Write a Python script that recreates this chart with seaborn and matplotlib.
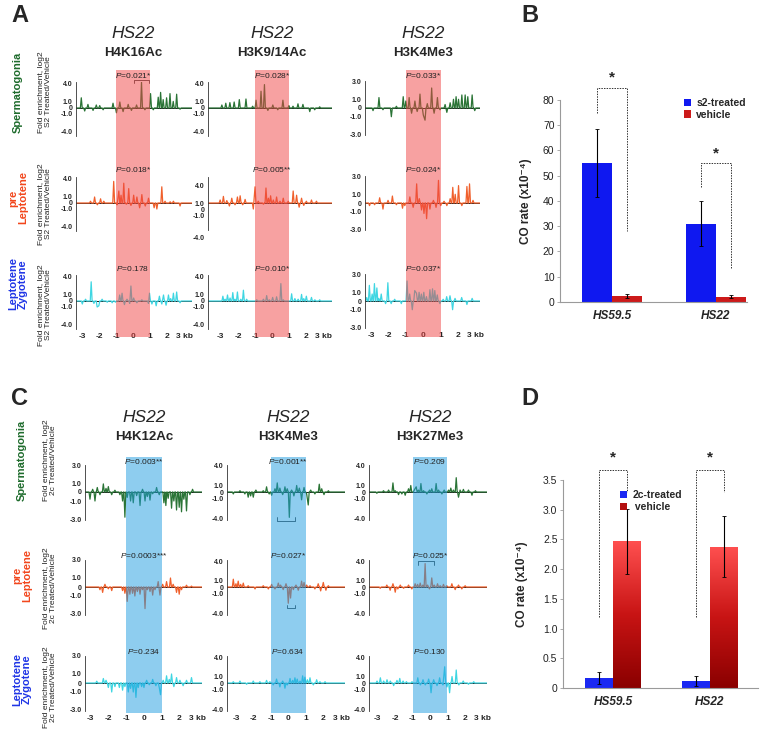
import numpy as np
import pandas as pd
import matplotlib
matplotlib.use("Agg")
import matplotlib.pyplot as plt
from matplotlib.patches import Rectangle
from matplotlib.transforms import blended_transform_factory
from matplotlib.colors import LinearSegmentedColormap
import seaborn as sns

# ---------------------------------------------------------------
# data: (position kb, log2 fold enrichment)
# ---------------------------------------------------------------
# panel A (S2 treated / vehicle)
A_SG_K16 = [(-3.04, 1.7), (-2.84, -0.5), (-2.65, 0.6), (-2.35, -0.4), (-2.16, 0.5), (-1.96, 0.4),
            (-1.76, -0.3), (-1.18, 0.8), (-0.98, -0.8), (-0.78, 1.0), (-0.59, -0.6), (-0.29, 0.6),
            (-0.10, -0.4), (0.20, 0.5), (0.49, 4.3), (0.69, -0.3), (1.02, 2.4), (1.18, -0.3),
            (1.47, 1.8), (1.61, 2.6), (1.76, 1.4), (1.96, 1.7), (2.16, 2.4), (2.35, 1.1),
            (2.55, 2.3), (2.75, -0.2)]
A_SG_K9 = [(-2.94, 0.5), (-2.71, 0.8), (-2.47, 0.9), (-2.22, 1.0), (-1.92, 1.4), (-1.53, 1.5),
           (-1.14, 0.3), (-0.94, 1.3), (-0.65, 2.8), (-0.45, 3.9), (-0.25, -0.4), (0.04, 0.5),
           (0.33, -0.3), (0.63, 1.3), (0.98, 0.4), (1.22, 0.3), (1.51, 0.7), (1.80, 0.6),
           (2.20, -0.6), (2.49, -0.3), (2.78, 0.2)]
A_SG_K4 = [(-2.88, -0.3), (-2.54, 1.2), (-2.31, -0.2), (-1.83, -1.0), (-1.54, 0.2), (-1.15, 1.3),
           (-1.00, 0.8), (-0.81, 1.2), (-0.67, -0.6), (-0.48, 0.8), (-0.35, -0.4), (-0.19, 1.6),
           (0.00, -0.8), (0.10, -1.4), (0.23, 0.5), (0.48, 2.3), (0.62, -0.6), (0.81, 1.2),
           (0.96, -0.2), (1.25, 0.4), (1.35, -0.5), (1.54, 0.6), (1.73, 1.0), (1.88, 1.3),
           (2.02, 1.0), (2.21, 1.5), (2.40, 1.5), (2.55, 1.3), (2.80, 1.5), (2.95, -0.3)]
A_PL_K16 = [(-2.50, 0.3), (-2.26, 1.0), (-2.10, -0.3), (-1.91, 0.7), (-1.72, 0.3), (-1.14, 3.6),
            (-0.94, -0.3), (-0.84, 2.0), (-0.71, 1.3), (-0.55, 3.3), (-0.40, -0.2), (-0.26, 2.4),
            (-0.13, -0.4), (0.03, 1.3), (0.22, 1.0), (0.38, -0.8), (0.51, 1.4), (0.71, -0.5),
            (0.90, 0.8), (1.23, -0.8), (1.39, -1.0), (1.68, 2.7), (1.87, 0.3), (2.17, 0.2),
            (2.36, 0.3), (2.75, -0.5)]
A_PL_K9 = [(-3.04, 0.5), (-2.85, 1.1), (-2.65, 0.4), (-2.50, -0.5), (-2.36, 0.8), (-2.17, -0.3),
           (-2.03, 1.0), (-1.87, 1.2), (-1.72, -0.3), (-1.58, 0.6), (-1.10, -1.0), (-1.00, 2.7),
           (-0.81, 0.3), (-0.51, -0.2), (-0.36, 2.5), (-0.22, 0.8), (-0.09, 1.2), (0.07, 0.5),
           (0.26, 1.0), (0.46, 0.3), (0.65, 0.8), (0.94, 0.3), (1.23, 2.0), (1.43, 1.3),
           (1.58, -0.7), (1.72, 0.8), (1.85, -0.4), (2.00, 0.3), (2.30, 0.5), (2.59, 0.3)]
A_PL_K4 = [(-3.08, -0.3), (-2.79, -0.2), (-2.50, 0.6), (-2.31, -0.7), (-2.02, 0.3), (-1.77, 0.8),
           (-1.54, -0.2), (-1.19, -0.6), (-1.06, -0.3), (-0.77, 0.7), (-0.58, -0.5), (-0.38, 2.2),
           (-0.23, 0.5), (-0.10, -0.8), (0.04, -1.2), (0.19, -1.8), (0.38, -0.7), (0.58, 0.3),
           (0.73, -0.5), (0.87, 2.6), (1.00, -0.3), (1.19, 0.2), (1.35, -0.3), (1.54, 0.5),
           (1.69, 1.8), (1.83, 1.0), (2.02, 2.0), (2.21, -0.3), (2.50, 1.9), (2.65, 2.2),
           (2.85, 0.3)]
A_LZ_K16 = [(-2.98, -0.5), (-2.79, 0.3), (-2.46, 3.2), (-2.30, -0.4), (-2.11, -1.0), (-2.01, -0.8),
            (-1.82, 0.3), (-1.52, -0.2), (-1.23, -0.3), (-1.04, -0.2), (-0.79, 1.0), (-0.65, 1.3),
            (-0.51, -0.6), (-0.36, 0.3), (-0.20, -0.4), (-0.13, 2.5), (0.03, 0.5), (0.22, -0.3),
            (0.51, 0.2), (0.90, -0.4), (0.96, 1.3), (1.10, -0.5), (1.35, -0.8), (1.54, 0.8),
            (1.68, -0.5), (1.78, 1.0), (1.93, -0.7), (2.07, 1.0), (2.20, 0.4), (2.36, 1.3),
            (2.55, 1.5), (2.75, -0.3)]
A_LZ_K9 = [(-2.88, 0.8), (-2.75, 0.3), (-2.61, 1.0), (-2.46, 0.5), (-2.30, 1.4), (-2.17, 0.3),
           (-2.03, 1.5), (-1.83, 0.3), (-1.68, 1.8), (-1.49, 0.3), (-0.90, 0.2), (-0.51, 0.3),
           (-0.32, 0.9), (-0.17, 0.2), (0.03, 0.6), (0.26, 0.7), (0.51, 2.9), (0.65, 0.2),
           (1.14, 1.2), (1.33, 0.4), (1.52, 0.3), (1.72, 1.1), (1.85, 0.4), (2.00, 0.8),
           (2.30, 0.6), (2.50, 0.2), (2.78, 0.2)]
A_LZ_K4 = [(-3.24, 0.4), (-3.09, 1.8), (-2.93, 0.8), (-2.80, 2.0), (-2.66, 1.5), (-2.55, 0.3),
           (-2.41, 0.8), (-2.16, -0.3), (-2.03, 2.1), (-1.84, -0.3), (-1.64, 0.2), (-1.26, -0.3),
           (-0.93, 2.3), (-0.78, 0.8), (-0.63, -1.0), (-0.49, 1.2), (-0.39, 0.9), (-0.24, 1.0),
           (-0.11, 0.8), (0.03, 1.0), (0.18, 0.5), (0.38, 1.3), (0.53, 1.4), (0.66, 1.2),
           (0.80, 0.7), (0.95, -0.3), (1.14, 0.2), (1.34, 0.5), (1.53, 0.6), (1.68, -1.0),
           (1.82, 0.3), (2.20, 0.4), (2.50, -0.4), (2.80, 0.3)]

# panel C (2c treated / vehicle)
C_SG_K12 = [(-3.02, -0.8), (-2.87, 0.3), (-2.74, -1.0), (-2.61, 0.5), (-2.46, -0.3), (-2.27, 0.9),
            (-2.12, 0.4), (-1.99, 0.6), (-1.80, -0.3), (-1.62, 0.2), (-1.34, -0.3), (-1.19, -1.0),
            (-1.06, -2.8), (-0.93, -0.6), (-0.74, -1.0), (-0.59, -1.2), (-0.40, -0.4), (-0.21, -1.5),
            (-0.07, 0.3), (0.07, -1.0), (0.20, -0.5), (0.35, -0.9), (0.50, -0.2), (0.72, 0.5),
            (0.87, -0.3), (1.13, -1.2), (1.24, -1.5), (1.37, -0.7), (1.56, -1.8), (1.69, -1.0),
            (1.84, -2.0), (1.99, -1.7), (2.12, -2.2), (2.25, -0.8), (2.40, -2.1), (2.59, -0.3),
            (2.74, 0.3)]
C_SG_K4 = [(-3.15, -0.3), (-2.77, 0.2), (-2.49, -0.3), (-2.30, -0.8), (-2.16, -0.6), (-2.01, -0.8),
           (-1.86, 0.3), (-1.44, 0.2), (-1.25, 0.8), (-1.10, -0.3), (-0.96, -0.5), (-0.77, 0.5),
           (-0.64, 1.4), (-0.49, 0.6), (-0.33, -0.4), (-0.20, 0.8), (-0.07, 0.5), (0.05, -3.9),
           (0.18, 0.3), (0.31, -0.6), (0.47, 1.0), (0.62, 0.6), (0.75, -1.2), (0.89, 0.7),
           (1.04, -0.3), (1.13, -2.0), (1.27, 0.3), (1.51, -0.3), (1.76, 1.2), (1.90, 0.5),
           (2.03, -0.4), (2.28, 0.2)]
C_SG_K27 = [(-3.04, -0.2), (-2.66, 0.2), (-2.37, 0.3), (-2.12, 1.4), (-1.99, 0.2), (-1.80, -0.4),
            (-1.61, -0.3), (-1.42, -0.5), (-1.23, 0.5), (-1.10, 1.0), (-0.90, 0.3), (-0.79, 0.8),
            (-0.66, 0.3), (-0.52, 1.3), (-0.37, 0.2), (-0.18, -0.3), (-0.03, 0.3), (0.10, 0.5),
            (0.35, 1.3), (0.49, 0.3), (0.68, -0.3), (0.81, 0.3), (1.06, 0.3), (1.19, 0.6),
            (1.34, 0.3), (1.50, 2.2), (1.63, -0.8), (1.72, 0.3), (1.91, 0.4), (2.20, 0.3),
            (2.40, -0.5), (2.60, 0.2)]
C_PL_K12 = [(-2.46, -0.3), (-2.31, -0.6), (-2.18, 0.3), (-1.99, -0.2), (-1.80, -0.4), (-1.19, -0.4),
            (-1.06, -0.7), (-0.93, -1.6), (-0.78, -0.8), (-0.63, -0.7), (-0.50, -1.0), (-0.36, -0.5),
            (-0.21, -0.8), (-0.07, -0.3), (0.07, -2.4), (0.20, -0.3), (0.35, -0.5), (0.50, -0.9),
            (0.63, -0.3), (0.81, 0.6), (0.91, -0.9), (1.06, 0.3), (1.28, 0.6), (1.50, 1.0),
            (1.65, 0.3), (1.84, -0.6), (1.99, -0.8), (2.12, -0.3), (2.40, 0.2), (2.68, 0.1)]
C_PL_K4 = [(-3.15, 1.2), (-3.00, 0.5), (-2.87, 0.9), (-2.73, 0.4), (-2.58, 0.6), (-2.30, 0.2),
           (-1.91, -0.3), (-1.44, 0.2), (-1.15, -0.3), (-0.96, 0.4), (-0.77, -0.3), (-0.58, 0.6),
           (-0.45, 0.3), (-0.30, -0.4), (-0.14, 0.5), (-0.01, -2.5), (0.12, -1.7), (0.28, -0.4),
           (0.43, 0.3), (0.56, -0.5), (0.75, 0.9), (0.89, 0.7), (1.04, 0.3), (1.23, 0.2),
           (1.51, -0.3), (1.70, 0.5), (1.84, -0.6), (1.99, 0.7), (2.14, -0.5), (2.28, 0.2)]
C_PL_K27 = [(-2.85, -0.2), (-2.47, 0.3), (-2.28, -0.5), (-2.12, 0.5), (-1.99, -0.8), (-1.84, -0.3),
            (-1.70, 0.3), (-1.51, -0.2), (-1.23, 0.3), (-1.04, -0.3), (-0.85, 0.5), (-0.71, 0.4),
            (-0.56, 0.6), (-0.41, 0.3), (-0.28, 3.6), (-0.14, 0.3), (-0.03, -0.3), (0.10, 1.4),
            (0.24, 0.3), (0.43, 0.5), (0.58, 0.2), (0.77, 0.4), (0.96, 0.2), (1.25, 0.5),
            (1.44, -0.4), (1.63, 0.3), (1.82, -0.3), (2.01, 0.2)]
C_LZ_K12 = [(-2.64, 0.2), (-2.27, 0.5), (-2.12, 0.3), (-1.99, -0.5), (-1.80, -1.0), (-1.62, -0.4),
            (-1.37, -0.5), (-1.19, -0.8), (-1.06, -0.4), (-0.87, -1.0), (-0.74, -0.6), (-0.59, -1.0),
            (-0.44, -1.6), (-0.31, -0.5), (-0.12, -0.4), (0.01, -0.5), (0.16, 0.3), (0.31, -0.2),
            (0.50, 0.4), (0.68, -0.3), (0.87, -0.5), (0.94, -1.3), (1.09, 0.3), (1.28, 0.8),
            (1.43, 0.4), (1.56, 1.0), (1.69, -0.4), (1.84, 0.6), (2.03, 0.3), (2.21, -0.3),
            (2.40, 0.3), (2.68, 0.6)]
C_LZ_K4 = [(-3.15, 0.2), (-2.77, 0.3), (-2.39, -0.2), (-2.01, 0.3), (-1.63, 0.2), (-1.25, 0.4),
           (-1.06, 0.2), (-0.87, -0.3), (-0.68, 0.6), (-0.49, -0.6), (-0.33, 0.3), (-0.20, -0.8),
           (-0.07, -0.3), (0.09, 0.7), (0.24, 0.4), (0.37, 0.8), (0.50, 0.6), (0.66, 0.3),
           (0.81, 1.1), (0.94, 0.9), (1.08, 0.5), (1.23, 0.8), (1.42, -0.3), (1.61, 0.5),
           (1.80, 0.2), (2.09, 0.2)]
C_LZ_K27 = [(-3.03, 0.3), (-2.84, 0.8), (-2.65, 0.3), (-2.46, 0.5), (-2.27, 0.3), (-2.08, -0.4),
            (-1.89, 0.4), (-1.73, 0.7), (-1.54, 0.3), (-1.35, 0.2), (-1.03, 0.2), (-0.70, 0.8),
            (-0.55, -0.3), (-0.40, 0.5), (-0.27, -0.3), (-0.08, 0.6), (0.06, -1.5), (0.21, 0.5),
            (0.40, -0.4), (0.55, 0.8), (0.74, -0.3), (0.84, 2.5), (0.97, -0.6), (1.12, -1.5),
            (1.26, 1.0), (1.50, 2.0), (1.65, -0.3), (1.90, 0.3), (2.20, -0.2), (2.50, 0.2)]

A_MARKS = ["H4K16Ac", "H3K9/14Ac", "H3K4Me3"]
C_MARKS = ["H4K12Ac", "H3K4Me3", "H3K27Me3"]
A_PVALS = [["0.021*", "0.028*", "0.033*"],
           ["0.018*", "0.005**", "0.024*"],
           ["0.178", "0.010*", "0.037*"]]
C_PVALS = [["0.003**", "0.001**", "0.209"],
           ["0.0003***", "0.027*", "0.025*"],
           ["0.234", "0.634", "0.130"]]
STAGES = ["Spermatogonia", "pre\nLeptotene", "Leptotene\nZygotene"]
X_TICKS = [-3, -2, -1, 0, 1, 2, 3]
X_TICKLABELS = ["-3", "-2", "-1", "0", "1", "2", "3 kb"]

# bar charts (CO rate x10^-4)
SITES = ["HS59.5", "HS22"]
B_GROUPS = ["s2-treated", "vehicle"]
B_TREATED = [55.0, 31.0]
B_TREATED_ERR = [13.5, 9.0]
B_VEHICLE = [2.3, 2.0]
B_VEHICLE_ERR = [0.8, 0.6]
B_BRACKETS = [(75.0, 84.7, 28.0, 89.0), (45.6, 55.0, 13.4, 59.0)]
D_GROUPS = ["2c-treated", " vehicle"]
D_TREATED = [0.17, 0.12]
D_TREATED_ERR = [0.10, 0.08]
D_VEHICLE = [2.47, 2.38]
D_VEHICLE_ERR = [0.55, 0.51]
D_BRACKETS = [(1.2, 3.67, 3.3, 3.88), (1.2, 3.67, 3.3, 3.88)]

# ---------------------------------------------------------------
W, H = 760, 749
GREEN, ORANGE, CYAN = "#2a7436", "#f0602c", "#3fd6e2"
STAGE_COLORS = ["#1e6b2c", "#f2461c", "#1f35e6"]
TRACE_COLORS = [GREEN, ORANGE, CYAN]

sns.set_theme(style="white")
plt.rcParams["font.family"] = ["Liberation Sans", "DejaVu Sans"]
plt.rcParams["mathtext.fontset"] = "custom"
plt.rcParams["mathtext.it"] = "Liberation Sans:italic"
plt.rcParams["mathtext.rm"] = "Liberation Sans"

fig = plt.figure(figsize=(W / 100, H / 100), dpi=100)


def px_axes(x0, x1, y_top, y_bot):
    return fig.add_axes([x0 / W, 1 - y_bot / H, (x1 - x0) / W, (y_bot - y_top) / H])


def ftext(x, y, s, **kw):
    return fig.text(x / W, 1 - y / H, s, **kw)


def spike_line(spikes, xlo, xhi, w=0.055):
    xs, ys = [xlo], [0.0]
    last = None
    for x, h in spikes:
        if last is None:
            xs.append(x - w); ys.append(0.0)
        elif x - last > 2 * w:
            xs += [last + w, x - w]; ys += [0.0, 0.0]
        xs.append(x); ys.append(h)
        last = x
    xs += [last + w, xhi]; ys += [0.0, 0.0]
    return xs, ys


def trace_panel(col, zero_py, spikes, color, bottom, ylim=None, ticks=None, labels=None, bounds=None):
    ylo, yhi = ylim if ylim else col["ylim"]
    ppu = col["ppu"]
    ax = px_axes(col["x0"], col["x1"], zero_py - yhi * ppu, zero_py - ylo * ppu)
    ax.set_facecolor("none")
    xs, ys = spike_line(spikes, *col["xlim"])
    ax.axhline(0, color="#1a1a1a", lw=0.7, zorder=1)
    sns.lineplot(x=xs, y=ys, sort=False, estimator=None, color=color, lw=0.9, ax=ax, zorder=2)
    ax.set_xlim(col["xlim"])
    ax.set_ylim(ylo, yhi)
    for s in ["top", "right", "bottom"]:
        ax.spines[s].set_visible(False)
    ax.spines["left"].set_color("#333333")
    ax.spines["left"].set_linewidth(0.6)
    if bounds:
        ax.spines["left"].set_bounds(*bounds)
    ax.set_yticks(ticks if ticks else col["ticks"])
    ax.set_yticklabels(labels if labels else col["labels"], fontsize=5, fontweight="bold")
    ax.tick_params(axis="y", length=1.5, width=0.5, pad=1, color="#333333")
    if bottom:
        ax.set_xticks(X_TICKS)
        ax.set_xticklabels(X_TICKLABELS, fontsize=6, fontweight="bold")
        ax.tick_params(axis="x", length=0, pad=3)
    else:
        ax.set_xticks([])
    ax.grid(False)
    return ax


def bracket(ax, xl, xr, yb, height=0.25):
    ax.plot([xl, xl, xr, xr], [yb - height, yb, yb, yb - height], color="#333333", lw=0.6,
            clip_on=False, zorder=3)


def shade(ax, top_py, bot_py, color):
    tr = blended_transform_factory(ax.transData, fig.transFigure)
    r = Rectangle((-1, 1 - bot_py / H), 2, (bot_py - top_py) / H, transform=tr,
                  facecolor=color, alpha=0.5, lw=0, zorder=2)
    fig.add_artist(r)


lab_fmt = ["4.0", "1.0", "0", "-1.0", "-4.0"]
lab_fmt3 = ["3.0", "1.0", "0", "-1.0", "-3.0"]

A_COLS = [
    dict(x0=76, x1=192, xlim=(-3.35, 3.45), ppu=6.0, ylim=(-4.7, 4.3), ticks=[4, 1, 0, -1, -4], labels=lab_fmt, c=133),
    dict(x0=208, x1=332, xlim=(-3.75, 3.5), ppu=6.0, ylim=(-4.7, 4.3), ticks=[4, 1, 0, -1, -4], labels=lab_fmt, c=272),
    dict(x0=365, x1=480, xlim=(-3.34, 3.25), ppu=8.7, ylim=(-3.1, 3.1), ticks=[3, 1, 0, -1, -3], labels=lab_fmt3, c=423),
]
C_COLS = [
    dict(x0=85, x1=202, xlim=(-3.3, 3.27), ppu=9.0, ylim=(-3.1, 3.0), ticks=[3, 1, 0, -1, -3], labels=lab_fmt3, c=144),
    dict(x0=227, x1=345, xlim=(-3.51, 3.23), ppu=6.5, ylim=(-4.3, 4.1), ticks=[4, 1, 0, -1, -4], labels=lab_fmt, c=288),
    dict(x0=369, x1=487, xlim=(-3.49, 3.26), ppu=6.5, ylim=(-4.3, 4.1), ticks=[4, 1, 0, -1, -4], labels=lab_fmt, c=430),
]

A_DATA = [[A_SG_K16, A_SG_K9, A_SG_K4], [A_PL_K16, A_PL_K9, A_PL_K4], [A_LZ_K16, A_LZ_K9, A_LZ_K4]]
C_DATA = [[C_SG_K12, C_SG_K4, C_SG_K27], [C_PL_K12, C_PL_K4, C_PL_K27], [C_LZ_K12, C_LZ_K4, C_LZ_K27]]

A_ZERO = [108, 203, 301]
C_ZERO = [492, 587, 683]

# ---------------- panel A ----------------
a_axes = {}
for r in range(3):
    for c in range(3):
        col = A_COLS[c]
        if r == 1 and c == 1:
            ax = trace_panel(col, A_ZERO[r], A_DATA[r][c], TRACE_COLORS[r], r == 2,
                             ylim=(-6.0, 4.3), ticks=[3.0, 0, -1.0, -2.0, -5.7],
                             labels=lab_fmt, bounds=(-4.5, 4.3))
        else:
            ax = trace_panel(col, A_ZERO[r], A_DATA[r][c], TRACE_COLORS[r], r == 2)
        a_axes[(r, c)] = ax
        ftext(col["c"], A_ZERO[r] - 33, r"$\mathit{P}$=" + A_PVALS[r][c], ha="center", va="center",
              fontsize=6, color="#222222", zorder=4)
for c in range(3):
    shade(a_axes[(0, c)], 70, 337, "#f04444")
    ftext(A_COLS[c]["c"], 33, "HS22", ha="center", va="center", fontsize=12.5, style="italic")
    ftext(A_COLS[c]["c"], 53, A_MARKS[c], ha="center", va="center", fontsize=9.5, fontweight="bold")
bracket(a_axes[(0, 0)], 0.03, 0.94, 4.6, height=0.5)

# ---------------- panel C ----------------
c_axes = {}
for r in range(3):
    for c in range(3):
        col = C_COLS[c]
        ax = trace_panel(col, C_ZERO[r], C_DATA[r][c], TRACE_COLORS[r], r == 2)
        c_axes[(r, c)] = ax
        ftext(col["c"], C_ZERO[r] - 31, r"$\mathit{P}$=" + C_PVALS[r][c], ha="center", va="center",
              fontsize=6, color="#222222", zorder=4)
for c in range(3):
    shade(c_axes[(0, c)], 457, 713, "#1e9ce0")
    ftext(C_COLS[c]["c"], 417, "HS22", ha="center", va="center", fontsize=12.5, style="italic")
    ftext(C_COLS[c]["c"], 437, C_MARKS[c], ha="center", va="center", fontsize=9.5, fontweight="bold")
bracket(c_axes[(0, 1)], -0.68, 0.37, -4.4, height=-0.6)
bracket(c_axes[(1, 1)], -0.10, 0.37, -3.3, height=-0.6)
bracket(c_axes[(1, 2)], -0.66, 0.20, 4.0, height=0.6)

# stage labels
for zeros, centers, fold_x, stage_x, trt in [
        (A_ZERO, [92, 198, 284], 45, 18, "S2"),
        (C_ZERO, [460, 575, 679], 50, 22, "2c")]:
    fold_y = [centers[0], zeros[1] + 1, zeros[2] + 4]
    for r in range(3):
        ftext(stage_x, centers[r], STAGES[r], rotation=90, ha="center", va="center",
              fontsize=8, fontweight="bold", color=STAGE_COLORS[r], linespacing=1.0,
              multialignment="center")
        ftext(fold_x, fold_y[r], "Fold enrichment, log2\n" + trt + " Treated/Vehicle", rotation=90,
              ha="center", va="center", fontsize=6, linespacing=1.05, multialignment="center",
              color="#222222")

# ---------------- bar panels ----------------
red_grad = LinearSegmentedColormap.from_list("rg", ["#8a0000", "#c81414", "#ff5050"])


def bar_panel(box, groups, treated, terr, vehicle, verr, colors, ylim, yticks, yticklabels,
              brackets, leg_anchor, gradient=False, label_x=-0.15):
    ax = px_axes(*box)
    df = pd.DataFrame({"site": SITES * 2, "rate": treated + vehicle,
                       "group": [groups[0]] * 2 + [groups[1]] * 2})
    sns.barplot(data=df, x="site", y="rate", hue="group", palette=colors, width=0.58,
                errorbar=None, saturation=1, linewidth=0, ax=ax)
    cont_t, cont_v = ax.containers[0], ax.containers[1]
    xt = [b.get_x() + b.get_width() / 2 for b in cont_t]
    xv = [b.get_x() + b.get_width() / 2 for b in cont_v]
    if gradient:
        grad = np.linspace(0, 1, 256).reshape(-1, 1)
        for b in cont_v:
            im = ax.imshow(grad, extent=[b.get_x(), b.get_x() + b.get_width(), 0, b.get_height()],
                           origin="lower", cmap=red_grad, aspect="auto", zorder=b.get_zorder() + 0.1)
            im.set_clip_path(b)
    ax.errorbar(xt, treated, yerr=terr, fmt="none", ecolor="black", elinewidth=0.8, capsize=1.2,
                capthick=0.6, zorder=5)
    ax.errorbar(xv, vehicle, yerr=verr, fmt="none", ecolor="black", elinewidth=0.8, capsize=1.2,
                capthick=0.6, zorder=5)
    for i, (yl, ytop, yr, ystar) in enumerate(brackets):
        ax.plot([xt[i], xt[i], xv[i], xv[i]], [yl, ytop, ytop, yr], color="#333333", lw=0.7,
                ls=(0, (1.5, 1.2)), clip_on=False, zorder=4)
        ax.text((xt[i] + xv[i]) / 2, ystar, "*", ha="center", va="center", fontsize=11,
                fontweight="bold", clip_on=False)
    ax.set_ylim(*ylim)
    ax.set_yticks(yticks)
    ax.set_yticklabels(yticklabels, fontsize=7.5, color="#222222")
    ax.set_xticks([0, 1])
    ax.set_xticklabels(SITES, fontsize=8.5, fontweight="bold", style="italic")
    ax.tick_params(axis="x", length=0, pad=6)
    ax.tick_params(axis="y", length=2, width=0.5, pad=2, color="#888888", left=True)
    ax.set_xlabel("")
    ax.set_ylabel("CO rate (x10⁻⁴)", fontsize=8.5, fontweight="bold")
    ax.yaxis.set_label_coords(label_x, 0.5)
    for s in ["top", "right"]:
        ax.spines[s].set_visible(False)
    for s in ["left", "bottom"]:
        ax.spines[s].set_color("#9a9a9a")
        ax.spines[s].set_linewidth(0.8)
    handles, labels = ax.get_legend_handles_labels()
    ax.legend(handles, labels, loc="upper left", bbox_to_anchor=leg_anchor, frameon=False,
              handlelength=0.7, handleheight=0.7, handletextpad=0.5, labelspacing=0.15,
              prop={"size": 7.5, "weight": "bold"}, borderaxespad=0)
    ax.grid(False)
    return ax


axB = bar_panel((560, 747, 100, 302), B_GROUPS, B_TREATED, B_TREATED_ERR, B_VEHICLE, B_VEHICLE_ERR,
                ["#0f18f0", "#cc1a1a"], (0, 80), list(range(0, 81, 10)),
                [str(v) for v in range(0, 81, 10)], B_BRACKETS, (0.64, 1.03), label_x=-0.15)
axB.set_xlim(-0.5, 1.3)

axD = bar_panel((563, 758, 480, 688), D_GROUPS, D_TREATED, D_TREATED_ERR, D_VEHICLE, D_VEHICLE_ERR,
                ["#1a28f2", "#b41010"], (0, 3.5), [0, 0.5, 1.0, 1.5, 2.0, 2.5, 3.0, 3.5],
                ["0", "0.5", "1.0", "1.5", "2.0", "2.5", "3.0", "3.5"], D_BRACKETS, (0.27, 0.97),
                gradient=True, label_x=-0.18)
axD.set_xlim(-0.52, 1.5)
axD.set_ylim(0, 3.5)

# panel letters
for letter, (x, y) in zip("ABCD", [(20, 15), (530, 15), (20, 398), (530, 398)]):
    ftext(x, y, letter, ha="center", va="center", fontsize=17, fontweight="bold")

fig.savefig("out.png", dpi=100)
